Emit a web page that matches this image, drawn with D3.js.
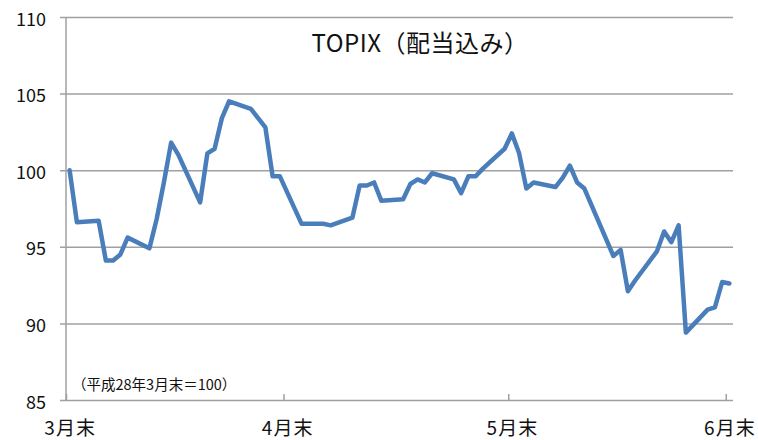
<!DOCTYPE html>
<html>
<head>
<meta charset="utf-8">
<script src="https://cdn.jsdelivr.net/npm/d3@7"></script>
<style>
  body { margin: 0; background: #fff; }
  text { font-family: "Noto Sans CJK JP", "Noto Sans", sans-serif; fill: #111; }
</style>
</head>
<body>
<div id="chart"></div>
<script>
const width = 758;
const height = 440;

// data: TOPIX (dividends included), 2016-03-31 = 100
const dates = [
  "2016-03-31", "2016-04-01", "2016-04-04", "2016-04-05", "2016-04-06", "2016-04-07", "2016-04-08",
  "2016-04-11", "2016-04-12", "2016-04-13", "2016-04-14", "2016-04-15",
  "2016-04-18", "2016-04-19", "2016-04-20", "2016-04-21", "2016-04-22",
  "2016-04-25", "2016-04-26", "2016-04-27", "2016-04-28", "2016-04-29",
  "2016-05-02", "2016-05-03", "2016-05-04", "2016-05-05", "2016-05-06",
  "2016-05-09", "2016-05-10", "2016-05-11", "2016-05-12", "2016-05-13",
  "2016-05-16", "2016-05-17", "2016-05-18", "2016-05-19", "2016-05-20",
  "2016-05-23", "2016-05-24", "2016-05-25", "2016-05-26", "2016-05-27",
  "2016-05-30", "2016-05-31", "2016-06-01", "2016-06-02", "2016-06-03",
  "2016-06-06", "2016-06-07", "2016-06-08", "2016-06-09", "2016-06-10",
  "2016-06-13", "2016-06-14", "2016-06-15", "2016-06-16", "2016-06-17",
  "2016-06-20", "2016-06-21", "2016-06-22", "2016-06-23", "2016-06-24",
  "2016-06-27", "2016-06-28", "2016-06-29", "2016-06-30"
];
const values = [
  100, 96.6, 96.7, 94.1, 94.1, 94.5, 95.6,
  94.9, 96.8, 99.2, 101.8, 101.0,
  97.9, 101.1, 101.4, 103.4, 104.5,
  104.0, 103.4, 102.8, 99.6, 99.6,
  96.5, 96.5, 96.5, 96.5, 96.4,
  96.9, 99.0, 99.0, 99.2, 98.0,
  98.1, 99.1, 99.4, 99.2, 99.8,
  99.4, 98.5, 99.6, 99.6, 100.1,
  101.4, 102.4, 101.1, 98.8, 99.2,
  98.9, 99.5, 100.3, 99.2, 98.8,
  95.5, 94.4, 94.8, 92.1, 92.8,
  94.7, 96.0, 95.3, 96.4, 89.4,
  90.9, 91.05, 92.7, 92.6
];

const yTicks = [85, 90, 95, 100, 105, 110];
const monthEnds = ["2016-03-31", "2016-04-30", "2016-05-31", "2016-06-30"];
const monthLabels = ["3月末", "4月末", "5月末", "6月末"];

const title = "TOPIX（配当込み）";
const note = "（平成28年3月末＝100）";

const plot = { left: 66, right: 733, top: 17, bottom: 400 };
const halfDay = 12 * 3600 * 1000;
const parse = d3.utcParse("%Y-%m-%d");

const series = dates.map((d, i) => ({ date: parse(d), value: values[i] }));

// each day is a slot; points sit in the middle of their day
const x = d3.scaleUtc()
  .domain([parse("2016-03-31"), parse("2016-07-01")])
  .range([plot.left, plot.right]);

const y = d3.scaleLinear()
  .domain([85, 110])
  .range([plot.bottom, plot.top]);

const svg = d3.select("#chart").append("svg")
  .attr("width", width)
  .attr("height", height);

// gridlines + y labels
const yAxis = svg.append("g")
  .attr("transform", `translate(${plot.right},0)`)
  .call(d3.axisLeft(y).tickValues(yTicks).tickSize(plot.right - 60).tickPadding(14));
yAxis.select(".domain").remove();
yAxis.selectAll(".tick line").attr("stroke", "#a0a0a0").attr("stroke-width", 1.5);
yAxis.selectAll(".tick text")
  .attr("dy", "0.45em")
  .style("font-size", "18px")
  .style("fill", "#111");

// vertical axis line
svg.append("line")
  .attr("x1", plot.left).attr("x2", plot.left)
  .attr("y1", plot.top).attr("y2", plot.bottom)
  .attr("stroke", "#a0a0a0").attr("stroke-width", 1.5);

// x tick marks at slot starts
const xTicks = svg.append("g")
  .attr("transform", `translate(0,${plot.bottom})`)
  .call(d3.axisBottom(x).tickValues(monthEnds.map(parse)).tickSizeInner(-6).tickSizeOuter(0).tickFormat(""));
xTicks.select(".domain").remove();
xTicks.selectAll(".tick line").attr("stroke", "#a0a0a0").attr("stroke-width", 1.5);

// x labels at slot centers
const xLabels = svg.append("g")
  .attr("transform", `translate(0,${plot.bottom})`)
  .call(d3.axisBottom(x)
    .tickValues(monthEnds.map(d => new Date(parse(d).getTime() + halfDay)))
    .tickSize(0)
    .tickFormat((d, i) => monthLabels[i]));
xLabels.select(".domain").remove();
xLabels.selectAll(".tick text")
  .attr("y", 35)
  .attr("dy", 0)
  .style("font-size", "19px")
  .style("letter-spacing", "1px")
  .style("fill", "#111");

// line
const line = d3.line()
  .x(d => x(new Date(d.date.getTime() + halfDay)))
  .y(d => y(d.value));

svg.append("path")
  .datum(series)
  .attr("fill", "none")
  .attr("stroke", "#4a7ebb")
  .attr("stroke-width", 4.5)
  .attr("stroke-linejoin", "round")
  .attr("stroke-linecap", "round")
  .attr("d", line);

// title
svg.append("text")
  .attr("x", 420)
  .attr("y", 52)
  .attr("text-anchor", "middle")
  .style("font-size", "24px")
  .style("letter-spacing", "0.5px")
  .text(title);

// base note
svg.append("text")
  .attr("x", 72)
  .attr("y", 390)
  .style("font-size", "14.5px")
  .text(note);
</script>
</body>
</html>
